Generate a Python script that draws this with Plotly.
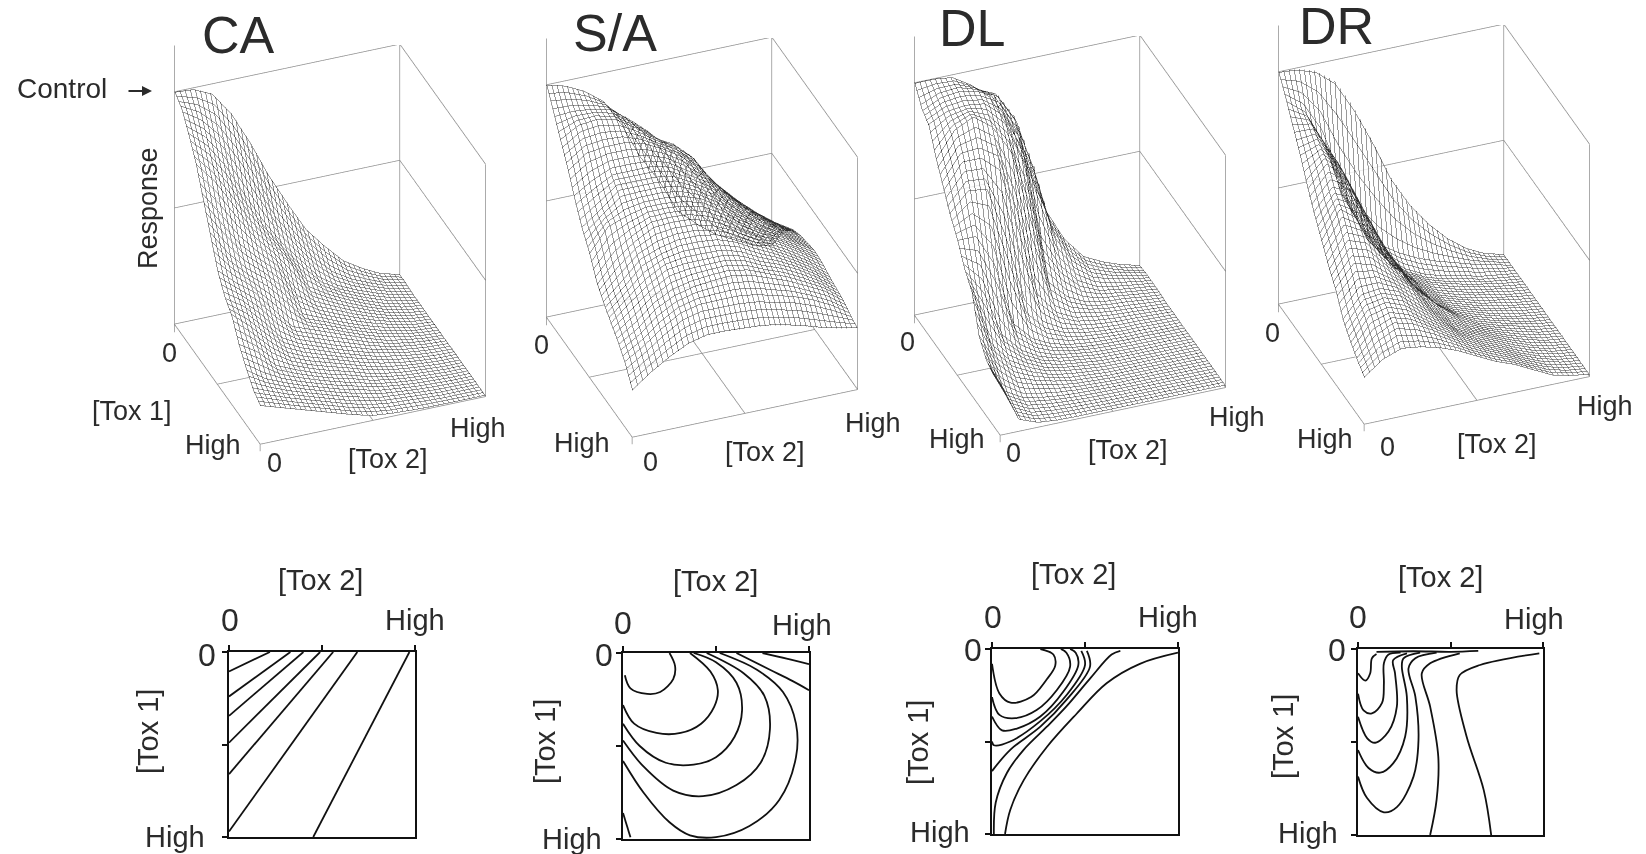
import numpy as np
import plotly.graph_objects as go

W, H = 1646, 854
FONT = "Liberation Sans"
TXT = "#2b2b2b"

tox_levels = [i / 12 for i in range(13)]

z_ca = [
 [1.00,.995,.96,.86,.72,.56,.42,.29,.20,.12,.07,.03,.01],
 [.97,.92,.84,.72,.58,.43,.32,.22,.14,.09,.055,.025,.01],
 [.90,.83,.72,.58,.45,.34,.25,.16,.11,.075,.045,.02,.005],
 [.82,.73,.61,.49,.40,.31,.19,.14,.10,.065,.035,.015,.005],
 [.71,.60,.49,.41,.34,.22,.155,.12,.085,.055,.03,.012,.005],
 [.60,.49,.41,.35,.265,.165,.135,.10,.07,.045,.025,.01,.005],
 [.49,.42,.36,.27,.18,.15,.12,.09,.06,.035,.02,.01,.005],
 [.42,.37,.29,.20,.155,.125,.095,.07,.045,.03,.015,.008,.005],
 [.38,.31,.23,.165,.13,.105,.08,.055,.035,.02,.012,.006,.005],
 [.30,.25,.175,.14,.11,.085,.065,.04,.025,.015,.01,.005,.005],
 [.24,.185,.15,.12,.095,.07,.05,.03,.02,.012,.008,.005,.005],
 [.19,.16,.13,.105,.08,.055,.035,.02,.015,.01,.005,.005,.005],
 [.165,.14,.115,.09,.065,.04,.02,.012,.008,.005,.005,.005,.005],
]
z_sa = [
 [1,.98,.94,.88,.76,.60,.48,.33,.26,.20,.16,.12,.10],
 [.92,.92,.91,.89,.83,.76,.67,.58,.47,.34,.26,.21,.18],
 [.84,.89,.90,.88,.83,.77,.73,.66,.54,.45,.37,.30,.25],
 [.76,.82,.83,.83,.81,.77,.72,.65,.56,.48,.41,.35,.30],
 [.67,.72,.76,.76,.76,.74,.69,.64,.56,.49,.43,.37,.32],
 [.59,.65,.72,.72,.72,.71,.67,.62,.55,.49,.44,.38,.33],
 [.53,.63,.66,.68,.68,.67,.65,.60,.54,.49,.44,.39,.34],
 [.45,.54,.60,.645,.65,.645,.62,.58,.53,.485,.44,.39,.335],
 [.40,.47,.55,.58,.60,.60,.59,.56,.515,.475,.43,.38,.32],
 [.36,.43,.49,.54,.55,.55,.55,.53,.49,.46,.42,.37,.31],
 [.32,.37,.44,.48,.50,.51,.515,.50,.47,.44,.40,.36,.30],
 [.27,.32,.38,.43,.45,.45,.45,.44,.42,.40,.37,.33,.28],
 [.20,.26,.31,.35,.37,.37,.365,.36,.345,.325,.30,.28,.265],
]
z_dl = [
 [1,1,.99,.94,.87,.72,.53,.33,.19,.10,.06,.03,.01],
 [.93,.97,.98,.96,.93,.81,.58,.28,.15,.08,.05,.03,.015],
 [.90,.94,.95,.94,.87,.71,.30,.17,.09,.05,.035,.025,.015],
 [.80,.91,.95,.89,.77,.47,.17,.09,.05,.035,.03,.02,.012],
 [.72,.83,.83,.78,.50,.19,.09,.05,.035,.025,.02,.015,.01],
 [.64,.72,.71,.47,.18,.09,.05,.03,.02,.015,.015,.012,.01],
 [.58,.58,.44,.17,.09,.05,.03,.02,.015,.012,.012,.01,.01],
 [.50,.40,.19,.105,.06,.035,.025,.015,.012,.01,.01,.01,.01],
 [.45,.22,.13,.08,.045,.03,.02,.012,.01,.01,.01,.01,.01],
 [.30,.16,.085,.055,.035,.02,.015,.01,.01,.01,.01,.01,.01],
 [.24,.09,.045,.03,.02,.015,.012,.01,.01,.01,.01,.01,.01],
 [.22,.07,.03,.02,.015,.012,.01,.01,.01,.01,.01,.01,.01],
 [.22,.05,.02,.012,.01,.01,.01,.01,.01,.01,.01,.01,.01],
]
z_dr = [
 [1,.995,.97,.91,.78,.62,.44,.31,.21,.13,.07,.03,.01],
 [.93,.86,.71,.46,.31,.22,.17,.13,.10,.075,.05,.03,.01],
 [.85,.84,.71,.48,.29,.20,.13,.09,.065,.05,.03,.02,.01],
 [.77,.80,.71,.53,.31,.20,.14,.095,.07,.05,.035,.02,.01],
 [.68,.77,.70,.53,.35,.23,.15,.095,.07,.05,.035,.02,.01],
 [.60,.69,.665,.52,.36,.23,.155,.10,.075,.05,.035,.02,.01],
 [.53,.65,.59,.48,.37,.245,.165,.11,.08,.055,.035,.02,.01],
 [.46,.57,.54,.44,.35,.26,.185,.125,.085,.06,.04,.02,.01],
 [.40,.49,.47,.41,.35,.25,.18,.13,.095,.065,.04,.02,.01],
 [.32,.41,.42,.39,.32,.25,.18,.14,.105,.07,.04,.02,.01],
 [.27,.37,.39,.36,.30,.245,.19,.145,.11,.07,.04,.02,.01],
 [.23,.31,.35,.33,.29,.24,.19,.15,.115,.075,.04,.02,.01],
 [.20,.26,.29,.28,.26,.23,.19,.15,.12,.08,.04,.02,.01],
]

iso_ca = [
 [(.22,0),(0,.105)], [(.33,0),(0,.24)], [(.40,0),(0,.345)], [(.49,0),(0,.49)],
 [(.56,0),(0,.66)], [(.69,0),(0,.97)], [(.97,0),(.453,1)],
]
iso_sa = [
 [(.01,.12),(.04,.19),(.13,.22),(.20,.21),(.27,.14),(.28,.07),(.25,0)],
 [(0,.28),(.06,.38),(.18,.43),(.31,.43),(.42,.38),(.49,.29),(.51,.20),(.47,.10),(.36,0)],
 [(0,.38),(.09,.50),(.23,.59),(.38,.60),(.50,.56),(.60,.45),(.64,.31),(.61,.16),(.50,.05),(.38,0)],
 [(0,.47),(.11,.61),(.27,.74),(.43,.77),(.61,.71),(.74,.59),(.79,.41),(.76,.23),(.65,.11),(.45,0)],
 [(0,.58),(.11,.75),(.25,.91),(.36,.98),(.50,.99),(.68,.93),(.84,.79),(.93,.56),(.93,.38),(.86,.21),(.72,.09),(.52,0)],
 [(0,.86),(.04,.99)],
 [(.61,0),(.79,.09),(.91,.15),(1,.20)],
 [(.75,0),(.88,.03),(1,.06)],
]
iso_dl = [
 [(0,.08),(.04,.24),(.10,.29),(.21,.26),(.29,.17),(.34,.09),(.33,.03),(.26,0)],
 [(0,.26),(.04,.356),(.125,.374),(.24,.33),(.35,.22),(.42,.095),(.40,.02),(.37,0)],
 [(0,.365),(.054,.44),(.134,.43),(.26,.365),(.384,.23),(.464,.087),(.45,.02),(.42,0)],
 [(0,.50),(.01,.52),(.098,.50),(.26,.39),(.40,.25),(.50,.087),(.48,.01)],
 [(0,.66),(.098,.545),(.26,.42),(.40,.275),(.527,.095),(.51,.01)],
 [(.01,1),(.02,.83),(.08,.67),(.17,.545),(.295,.42),(.40,.31),(.527,.16),(.643,.03),(.69,.01)],
 [(.07,1),(.098,.87),(.17,.71),(.295,.53),(.455,.35),(.616,.185),(.795,.08),(1,.02)],
]
iso_dr = [
 [(0,.13),(.04,.17),(.066,.13),(.075,.05),(.10,.027)],
 [(0,.24),(.03,.33),(.075,.346),(.13,.29),(.14,.185),(.14,.077),(.165,.03),(.23,.02)],
 [(0,.364),(.05,.48),(.093,.504),(.165,.444),(.21,.31),(.20,.13),(.19,.06),(.265,.023)],
 [(0,.543),(.057,.64),(.12,.665),(.19,.615),(.255,.47),(.264,.256),(.237,.095),(.246,.05),(.336,.02)],
 [(0,.686),(.048,.80),(.14,.878),(.21,.85),(.30,.686),(.327,.49),(.31,.256),(.273,.104),(.31,.05),(.425,.02)],
 [(.39,1),(.425,.81),(.434,.58),(.39,.31),(.345,.13),(.39,.077),(.55,.023)],
 [(.72,1),(.68,.76),(.587,.47),(.533,.22),(.55,.14),(.66,.086),(.98,.023)],
 [(.10,.015),(.30,.012),(.50,.015),(.65,.01)],
]

frame_tox1 = [0,0,None,0,1,None,1,1,None,1,0,None,0,0,None,0,0,None,1,1,None,0,0,None,0,1,None,0,0,None,0,1,None,.5,.5,None,0,1,None,1,1]
frame_tox2 = [0,1,None,1,1,None,1,0,None,0,0,None,0,0,None,1,1,None,1,1,None,0,1,None,1,1,None,0,1,None,1,1,None,0,1,None,.5,.5,None,0,0]
frame_resp = [0,0,None,0,0,None,0,0,None,0,0,None,-.035,1.2,None,0,1,None,0,1,None,1,1,None,1,1,None,.5,.5,None,.5,.5,None,0,0,None,0,0,None,-.03,0]

panels = [
    dict(name="CA", z=z_ca, iso=iso_ca, dx=0, dy=0,
         tick=[(169,353),(213,445),(274,463),(478,428)], tox2=(388,459), tox1=(132,411), title=(238,35),
         box=(229,415,652,837),
         lab=dict(t2=(320,580), t0=(230,620), th=(415,620), l0=(207,655), lh=(175,837), t1=(148,732))),
    dict(name="S/A", z=z_sa, iso=iso_sa, dx=372, dy=-7,
         tick=[(541,345),(582,443),(650,462),(873,423)], tox2=(765,452), tox1=None, title=(615,33),
         box=(623,809,653,839),
         lab=dict(t2=(715,581), t0=(623,623), th=(802,625), l0=(604,655), lh=(572,839), t1=(545,742))),
    dict(name="DL", z=z_dl, iso=iso_dl, dx=740, dy=-9,
         tick=[(907,342),(957,439),(1013,453),(1237,417)], tox2=(1128,450), tox1=None, title=(972,28),
         box=(992,1178,649,834),
         lab=dict(t2=(1073,574), t0=(993,617), th=(1168,617), l0=(973,650), lh=(940,832), t1=(918,743))),
    dict(name="DR", z=z_dr, iso=iso_dr, dx=1104, dy=-20,
         tick=[(1272,333),(1325,439),(1387,447),(1605,406)], tox2=(1497,444), tox1=None, title=(1336,26),
         box=(1358,1543,649,835),
         lab=dict(t2=(1440,577), t0=(1358,617), th=(1534,619), l0=(1337,650), lh=(1308,833), t1=(1283,737))),
]

CX, CY, HW, HH = 330, 250, 180, 205
EYE = np.array([.782, -.304, .544]) * 1.7

def fx(px):
    return px / W

def fy(px):
    return 1 - px / H

fig = go.Figure()
layout = dict(width=W, height=H, margin=dict(l=0, r=0, t=0, b=0), paper_bgcolor="white",
              plot_bgcolor="white", showlegend=False)
ann = []

def text(s, p, size=27, angle=0):
    ann.append(dict(x=fx(p[0]), y=fy(p[1]), xref="paper", yref="paper", text=s, showarrow=False,
                    xanchor="center", yanchor="middle", textangle=angle,
                    font=dict(family=FONT, size=size, color=TXT)))

noaxis = dict(visible=False, showgrid=False, zeroline=False, showspikes=False)
wire = dict(show=True, start=.002, end=.999, size=.996/44, color="#333333", width=1)
for i, p in enumerate(panels):
    n = "" if i == 0 else str(i + 1)
    scene = "scene" + n
    fig.add_trace(go.Surface(
        x=tox_levels, y=tox_levels, z=np.array(p["z"]).T, scene=scene, showscale=False, hoverinfo="skip",
        colorscale=[[0, "white"], [1, "white"]], cmin=0, cmax=1, opacity=.8,
        lighting=dict(ambient=1, diffuse=0, specular=0, fresnel=0, roughness=1),
        contours=dict(x=wire, y=wire, z=dict(show=False))))
    fig.add_trace(go.Scatter3d(x=frame_tox1, y=frame_tox2, z=frame_resp, mode="lines", scene=scene,
                               hoverinfo="skip", line=dict(color="#8f8f8f", width=1.5)))
    cx, cy = CX + p["dx"], CY + p["dy"]
    layout[scene] = dict(
        domain=dict(x=[fx(cx-HW), fx(cx+HW)], y=[fy(cy+HH), fy(cy-HH)]),
        xaxis=dict(range=[0, 1], **noaxis), yaxis=dict(range=[0, 1], **noaxis),
        zaxis=dict(range=[-.25, 1.2], **noaxis),
        aspectmode="manual", aspectratio=dict(x=1.156, y=1.18, z=1.958),
        camera=dict(projection=dict(type="orthographic"), up=dict(x=0, y=0, z=1),
                    center=dict(x=0, y=0, z=0), eye=dict(x=EYE[0], y=EYE[1], z=EYE[2])),
        bgcolor="white")

    xa, ya = f"x{n}", f"y{n}"
    for line in p["iso"]:
        u, v = zip(*line)
        fig.add_trace(go.Scatter(x=u, y=v, xaxis=xa, yaxis=ya, mode="lines", hoverinfo="skip",
                                 line=dict(color="#111111", width=1.8, shape="spline", smoothing=1)))
    x0, x1, y0, y1 = p["box"]
    common = dict(showline=True, linecolor="#111111", linewidth=2, mirror=True, ticks="outside", ticklen=5,
                  tickwidth=1.5, tickcolor="#111111", tickvals=[0, .5, 1], showticklabels=False,
                  showgrid=False, zeroline=False)
    layout["xaxis" + n] = dict(domain=[fx(x0), fx(x1)], range=[0, 1], side="top", anchor=ya, **common)
    layout["yaxis" + n] = dict(domain=[fy(y1), fy(y0)], range=[1, 0], anchor=xa, **common)

    text(p["name"], p["title"], size=52)
    for label, pos in zip(["0", "High", "0", "High"], p["tick"]):
        text(label, pos)
    text("[Tox 2]", p["tox2"])
    L = p["lab"]
    text("[Tox 2]", L["t2"], 29)
    text("0", L["t0"], 32)
    text("High", L["th"], 29)
    text("0", L["l0"], 32)
    text("High", L["lh"], 29)
    text("[Tox 1]", L["t1"], 29, -90)

text("[Tox 1]", panels[0]["tox1"])
text("Control", (62, 88), 28)
text("Response", (148, 208), 27, -90)
ann.append(dict(x=fx(152), y=fy(91), ax=-25, ay=0, xref="paper", yref="paper",
                text="", showarrow=True, arrowhead=2, arrowsize=1, arrowwidth=2, arrowcolor=TXT))

layout["annotations"] = ann
fig.update_layout(**layout)
fig.write_html("out.html", post_script="document.body.style.margin='0';", config={"displayModeBar": False})
